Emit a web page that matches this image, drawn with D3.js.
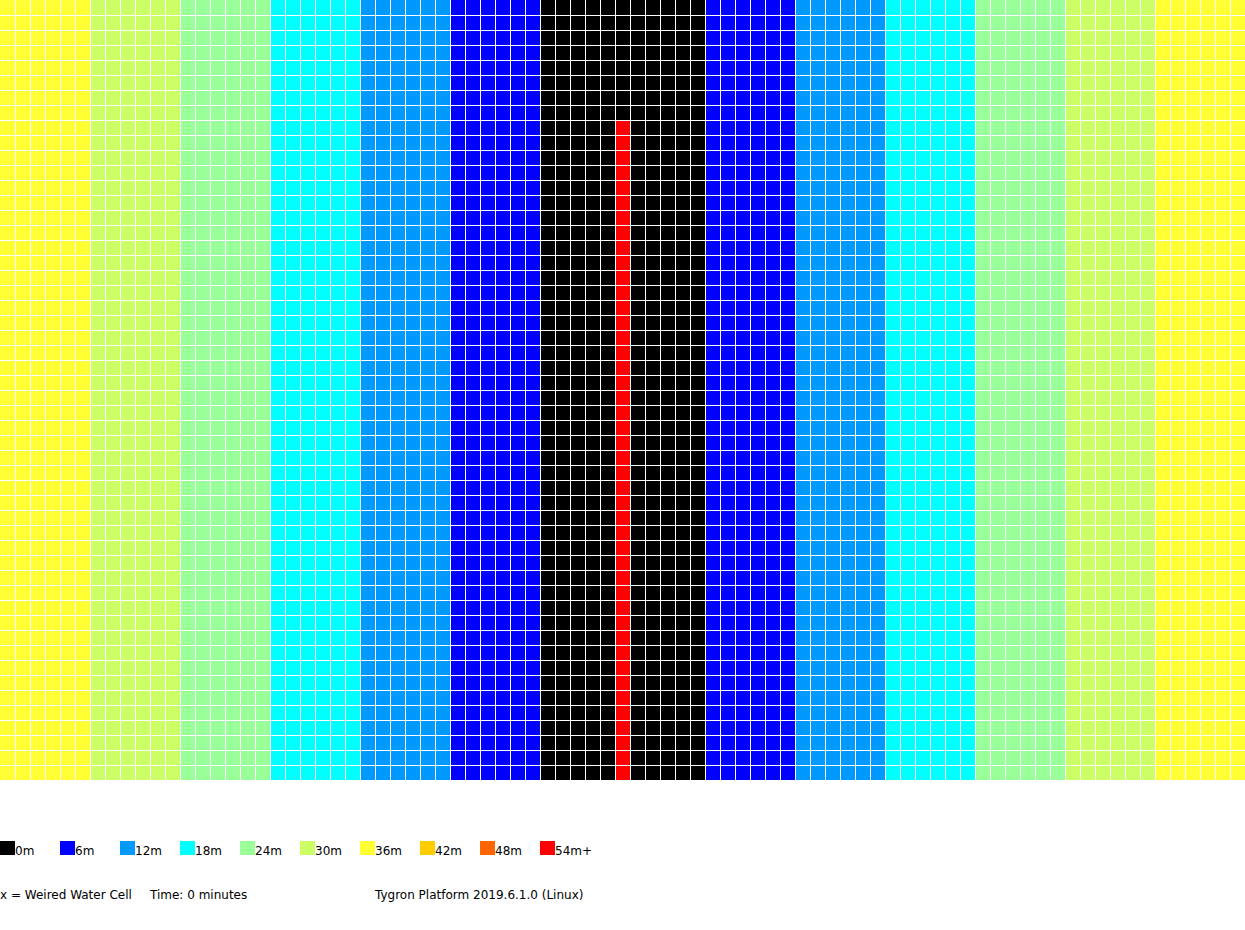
<!DOCTYPE html>
<html>
<head>
<meta charset="utf-8">
<script src="https://cdn.jsdelivr.net/npm/d3@7"></script>
<style>
  html, body { margin: 0; padding: 0; background: #ffffff; }
  svg { display: block; }
  text { font-family: "DejaVu Sans", sans-serif; font-size: 12px; fill: #000; }
</style>
</head>
<body>
<svg id="chart" width="1245" height="930"></svg>
<script>
// ---- data ----
const legendLabels = ["0m", "6m", "12m", "18m", "24m", "30m", "36m", "42m", "48m", "54m+"];
const legendColors = ["#000000", "#0000ff", "#0099ff", "#00ffff", "#99ff99", "#ccff66", "#ffff33", "#ffcc00", "#ff6600", "#ff0000"];
const legendThresholds = [6, 12, 18, 24, 30, 36, 42, 48, 54];

// water depth (m) per grid column, left to right
const columnDepths = [
  36, 36, 36, 36, 36, 36,
  30, 30, 30, 30, 30, 30,
  24, 24, 24, 24, 24, 24,
  18, 18, 18, 18, 18, 18,
  12, 12, 12, 12, 12, 12,
  6, 6, 6, 6, 6, 6,
  0, 0, 0, 0, 0, 0, 0, 0, 0, 0, 0,
  6, 6, 6, 6, 6, 6,
  12, 12, 12, 12, 12, 12,
  18, 18, 18, 18, 18, 18,
  24, 24, 24, 24, 24, 24,
  30, 30, 30, 30, 30, 30,
  36, 36, 36, 36, 36, 36
];
const rowCount = 52;
const weirColumn = 41;
const weirStartRow = 8;
const weirDepth = 54;

const footerLeft = "x = Weired Water Cell";
const footerTime = "Time: 0 minutes";
const footerPlatform = "Tygron Platform 2019.6.1.0 (Linux)";

// ---- build cells ----
const cells = [];
columnDepths.forEach((d, c) => {
  for (let r = 0; r < rowCount; r++) {
    const v = (c === weirColumn && r >= weirStartRow) ? weirDepth : d;
    cells.push({ c, r, v });
  }
});

const svg = d3.select("#chart");
const W = 1245, gridH = 780;

const x = d3.scaleBand().domain(d3.range(columnDepths.length)).range([0, W]).paddingInner(0).paddingOuter(0);
const y = d3.scaleBand().domain(d3.range(rowCount)).range([0, gridH]);
const color = d3.scaleThreshold().domain(legendThresholds).range(legendColors);

const grid = svg.append("g").attr("shape-rendering", "crispEdges");
grid.selectAll("rect.cell").data(cells).join("rect")
  .attr("class", "cell")
  .attr("x", d => x(d.c))
  .attr("y", d => y(d.r))
  .attr("width", x.bandwidth())
  .attr("height", y.bandwidth())
  .attr("fill", d => color(d.v));

// white grid lines between cells
grid.selectAll("rect.vline").data(d3.range(1, columnDepths.length)).join("rect")
  .attr("class", "vline")
  .attr("x", d => x(d)).attr("y", 0)
  .attr("width", 1).attr("height", gridH)
  .attr("fill", "#ffffff");
grid.selectAll("rect.hline").data(d3.range(1, rowCount)).join("rect")
  .attr("class", "hline")
  .attr("x", 0).attr("y", d => y(d))
  .attr("width", W).attr("height", 1)
  .attr("fill", "#ffffff");

// ---- legend ----
const lx = d3.scaleLinear().domain([0, 1]).range([0, 60]);
const legend = svg.append("g").attr("transform", "translate(0,841)");
const items = legend.selectAll("g").data(legendLabels).join("g")
  .attr("transform", (d, i) => `translate(${lx(i)},0)`);
items.append("rect")
  .attr("width", 15).attr("height", 14)
  .attr("shape-rendering", "crispEdges")
  .attr("fill", (d, i) => legendColors[i]);
items.append("text")
  .attr("x", 15).attr("y", 14)
  .text(d => d);

// ---- footer ----
svg.append("text").attr("x", 0).attr("y", 899).text(footerLeft);
svg.append("text").attr("x", 150).attr("y", 899).text(footerTime);
svg.append("text").attr("x", 375).attr("y", 899).text(footerPlatform);
</script>
</body>
</html>
